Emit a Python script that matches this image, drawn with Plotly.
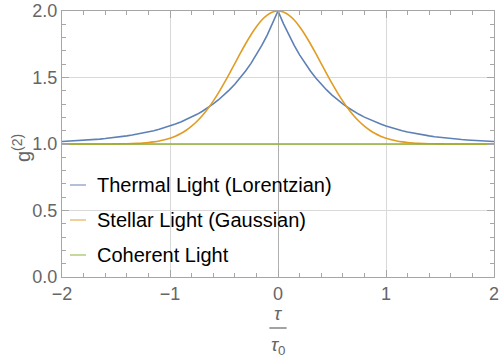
import plotly.graph_objects as go

# sampling grid (tau / tau0)
tau = [round(-2.0 + 0.05 * i, 2) for i in range(81)]

# Thermal light (Lorentzian) g2 values
thermal = [1.0183, 1.0202, 1.0224, 1.0247, 1.0273, 1.0302, 1.0334, 1.0369, 1.0408, 1.0450,
           1.0498, 1.0550, 1.0608, 1.0672, 1.0743, 1.0821, 1.0907, 1.1003, 1.1108, 1.1225,
           1.1353, 1.1496, 1.1653, 1.1827, 1.2019, 1.2231, 1.2466, 1.2725, 1.3012, 1.3329,
           1.3679, 1.4066, 1.4493, 1.4966, 1.5488, 1.6065, 1.6703, 1.7408, 1.8187, 1.9048,
           2.0,
           1.9048, 1.8187, 1.7408, 1.6703, 1.6065, 1.5488, 1.4966, 1.4493, 1.4066, 1.3679,
           1.3329, 1.3012, 1.2725, 1.2466, 1.2231, 1.2019, 1.1827, 1.1653, 1.1496, 1.1353,
           1.1225, 1.1108, 1.1003, 1.0907, 1.0821, 1.0743, 1.0672, 1.0608, 1.0550, 1.0498,
           1.0450, 1.0408, 1.0369, 1.0334, 1.0302, 1.0273, 1.0247, 1.0224, 1.0202, 1.0183]

# Stellar light (Gaussian) g2 values
stellar = [1.0, 1.0, 1.0, 1.0, 1.0, 1.0001, 1.0001, 1.0002, 1.0003, 1.0005,
           1.0009, 1.0014, 1.0021, 1.0033, 1.0049, 1.0074, 1.0108, 1.0157, 1.0223, 1.0313,
           1.0432, 1.0587, 1.0785, 1.1033, 1.1339, 1.1708, 1.2145, 1.2652, 1.3227, 1.3866,
           1.4559, 1.5293, 1.6049, 1.6805, 1.7537, 1.8217, 1.8819, 1.9318, 1.9691, 1.9922,
           2.0,
           1.9922, 1.9691, 1.9318, 1.8819, 1.8217, 1.7537, 1.6805, 1.6049, 1.5293, 1.4559,
           1.3866, 1.3227, 1.2652, 1.2145, 1.1708, 1.1339, 1.1033, 1.0785, 1.0587, 1.0432,
           1.0313, 1.0223, 1.0157, 1.0108, 1.0074, 1.0049, 1.0033, 1.0021, 1.0014, 1.0009,
           1.0005, 1.0003, 1.0002, 1.0001, 1.0001, 1.0, 1.0, 1.0, 1.0, 1.0]

# Coherent light: flat
coherent_tau = [-2.0, 2.0]
coherent = [1.0, 1.0]

names = ["Thermal Light (Lorentzian)", "Stellar Light (Gaussian)", "Coherent Light"]
colors = ["#5E81B5", "#E19C24", "#8FB032"]
legend_colors = ["#9FB2D3", "#EDC37F", "#BACF85"]
shapes_ = ["linear", "spline", "linear"]

x_ticks = [-2, -1, 0, 1, 2]
y_ticks = [0.0, 0.5, 1.0, 1.5, 2.0]
y_tick_text = ["0.0", "0.5", "1.0", "1.5", "2.0"]

FONT = "Liberation Sans, Arial, sans-serif"
W, H = 500, 357
L, R, T, B = 62, 6, 11, 80
PW, PH = W - L - R, H - T - B  # plot area size in px


def py2paper(py):
    """page pixel y -> paper coordinate"""
    return (T + PH - py) / PH


def px2paper(px):
    return (px - L) / PW


fig = go.Figure()
series = [(tau, thermal), (tau, stellar), (coherent_tau, coherent)]
for (xs, ys), name, c, sh in zip(series, names, colors, shapes_):
    fig.add_trace(go.Scatter(x=xs, y=ys, mode="lines", name=name,
                             line=dict(color=c, width=1.6, shape=sh), showlegend=False))

frame = "#A6A6A6"
tickfont = dict(family=FONT, size=18, color="#666666")

fig.update_layout(
    width=W, height=H,
    margin=dict(l=L, r=R, t=T, b=B),
    paper_bgcolor="white", plot_bgcolor="white",
    font=dict(family=FONT),
    xaxis=dict(range=[-2, 2], tickvals=x_ticks, ticktext=[str(v).replace("-", "\u2212") for v in x_ticks],
               automargin=False,
               showgrid=True, gridcolor="#D9D9D9", gridwidth=1.3,
               zeroline=True, zerolinecolor="#B0B0B0", zerolinewidth=1.2,
               showline=True, linecolor=frame, linewidth=1, mirror="allticks",
               ticks="inside", ticklen=7, tickcolor=frame, tickfont=tickfont,
               minor=dict(dtick=0.2, ticks="inside", ticklen=4, tickcolor=frame, showgrid=False)),
    yaxis=dict(range=[0, 2], tickvals=y_ticks, ticktext=y_tick_text,
               automargin=False,
               showgrid=True, gridcolor="#D9D9D9", gridwidth=1.3,
               zeroline=False,
               showline=True, linecolor=frame, linewidth=1, mirror="allticks",
               ticks="inside", ticklen=7, tickcolor=frame, tickfont=tickfont,
               minor=dict(dtick=0.1, ticks="inside", ticklen=4, tickcolor=frame, showgrid=False)),
)

# manual legend
legend_y = [185, 220, 255]
for name, lc, py in zip(names, legend_colors, legend_y):
    yp = py2paper(py)
    fig.add_shape(type="line", xref="paper", yref="paper",
                  x0=px2paper(70), x1=px2paper(86), y0=yp, y1=yp,
                  line=dict(color=lc, width=1.6))
    fig.add_annotation(xref="paper", yref="paper", x=px2paper(95), y=yp,
                       xanchor="left", yanchor="middle", showarrow=False,
                       text=name, font=dict(size=20, color="black", family=FONT))

# y-axis title
fig.add_annotation(xref="paper", yref="paper", x=px2paper(21), y=py2paper(148),
                   xanchor="center", yanchor="middle", showarrow=False, textangle=-90,
                   text="g<sup>(2)</sup>",
                   font=dict(size=20, color="#666666", family=FONT))

# x-axis title as fraction tau / tau0
fig.add_annotation(xref="x", yref="paper", x=0, y=py2paper(313),
                   xanchor="center", yanchor="middle", showarrow=False,
                   text="<i>τ</i>", font=dict(size=19, color="#666666", family=FONT))
fig.add_shape(type="line", xref="x", yref="paper", x0=-0.08, x1=0.08,
              y0=py2paper(328), y1=py2paper(328),
              line=dict(color="#666666", width=1.2))
fig.add_annotation(xref="x", yref="paper", x=0, y=py2paper(346),
                   xanchor="center", yanchor="middle", showarrow=False,
                   text="<i>τ</i><sub>0</sub>", font=dict(size=19, color="#666666", family=FONT))

# remove the default page margin so the figure sits at the window's top-left corner
fig.write_html("out.html", config={"displayModeBar": False},
               post_script="document.body.style.margin='0';document.body.style.padding='0';")
